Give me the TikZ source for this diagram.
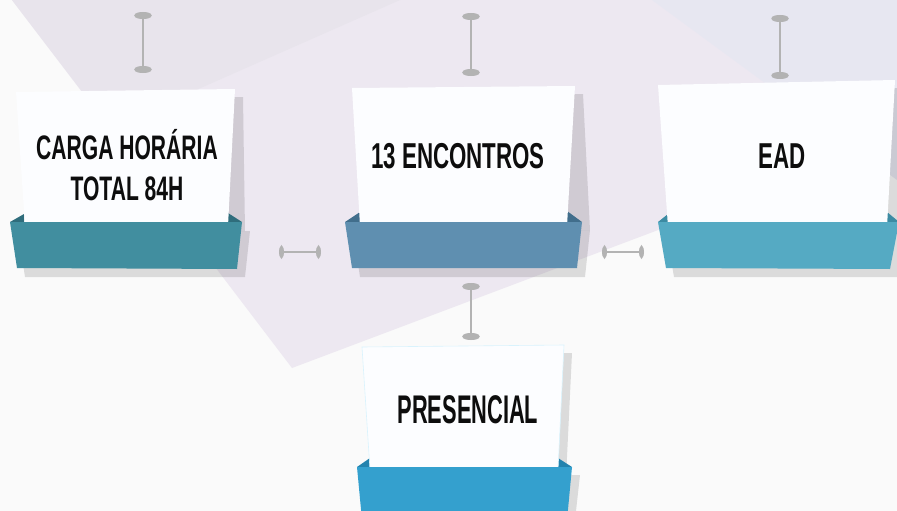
\documentclass[tikz,border=0pt]{standalone}
\usepackage{fontspec}
\newfontfamily\bebas[FakeStretch=0.62]{Liberation Sans}
\usetikzlibrary{arrows.meta}
\definecolor{bgbase}{HTML}{FAFAFA}
\definecolor{lavA}{HTML}{EDE8F1}
\definecolor{lavB}{HTML}{E8E4EC}
\definecolor{lavC}{HTML}{E7E7F1}
\definecolor{cardw}{HTML}{FCFDFF}
\definecolor{cgray}{HTML}{B3B3B3}
\definecolor{trayA}{HTML}{418E9F}
\definecolor{flapA}{HTML}{2F6D7C}
\definecolor{trayB}{HTML}{5F8FB0}
\definecolor{flapB}{HTML}{416E8C}
\definecolor{trayC}{HTML}{55AAC3}
\definecolor{flapC}{HTML}{3C8BA3}
\definecolor{trayD}{HTML}{34A0CE}
\definecolor{flapD}{HTML}{2383AE}
\definecolor{txt}{HTML}{0D0D0D}
\tikzset{
  shd/.style={fill=black, fill opacity=0.12},
  cardshape/.style={fill=cardw},
  cardtext/.style={text=txt, inner sep=0pt, align=center, font=\bebas\bfseries},
  vcon/.style={draw=cgray, fill=cgray, line width=2.6pt, {Ellipse[length=7pt,width=17pt]}-{Ellipse[length=7pt,width=17pt]}},
  hcon/.style={draw=cgray, fill=cgray, line width=2.6pt, {Ellipse[length=5pt,width=12pt]}-{Ellipse[length=5pt,width=12pt]}}
}
\begin{document}
\begin{tikzpicture}[x=1pt,y=-1pt]
\useasboundingbox (0,0) rectangle (897,511);
% background
\fill[bgbase] (0,0) rectangle (897,511);
\fill[lavA] (12,0) -- (292,368) -- (897,140) -- (897,0) -- cycle;
\fill[lavB] (12,0) -- (400,0) -- (110,128) -- cycle;
\fill[lavC] (652,0) -- (897,0) -- (897,180) -- cycle;

% ---- box 1 ----
\fill[shd] (24,100) -- (243,97) -- (245,231) -- (32,231) -- cycle;
\fill[shd] (18,231) -- (250,231) -- (245,277) -- (25,277) -- cycle;
\fill[flapA] (10,222) -- (24,214) -- (24,222) -- cycle;
\fill[flapA] (242,222) -- (228,213) -- (228,222) -- cycle;
\fill[cardshape] (16,92) -- (235,89) -- (228,226) -- (25,226) -- cycle;
\fill[trayA] (10,222) -- (242,222) -- (237,269) -- (17,268) -- cycle;
\node[cardtext, font=\bebas\bfseries\fontsize{34}{41}\selectfont] (t1) at (127,165) {CARGA HORÁRIA\\TOTAL 84H};

% ---- box 2 ----
\fill[shd] (360,96) -- (583,94) -- (590,230) -- (360,230) -- cycle;
\fill[shd] (353,230) -- (590,230) -- (585,277) -- (360,277) -- cycle;
\fill[flapB] (345,222) -- (360,212) -- (360,222) -- cycle;
\fill[flapB] (582,222) -- (567,211) -- (567,222) -- cycle;
\fill[cardshape] (352,88) -- (575,86) -- (567,226) -- (360,226) -- cycle;
\fill[trayB] (345,222) -- (582,222) -- (577,268) -- (352,268) -- cycle;
\node[cardtext, anchor=base, font=\bebas\bfseries\fontsize{36}{41}\selectfont] (t2) at (458,168) {13 ENCONTROS};

% ---- box 3 ----
\fill[shd] (666,93) -- (903,88) -- (903,232) -- (676,232) -- cycle;
\fill[shd] (666,230) -- (907,230) -- (898,277) -- (674,277) -- cycle;
\fill[flapC] (658,222) -- (668,214) -- (668,222) -- cycle;
\fill[flapC] (899,222) -- (887,212) -- (887,222) -- cycle;
\fill[cardshape] (658,85) -- (895,80) -- (887,227) -- (668,227) -- cycle;
\fill[trayC] (658,222) -- (899,222) -- (890,269) -- (666,268) -- cycle;
\node[cardtext, anchor=base, font=\bebas\bfseries\fontsize{36}{41}\selectfont] (t3) at (782,168) {EAD};

% ---- box 4 ----
\fill[shd] (370,355) -- (572,353) -- (566,478) -- (378,478) -- cycle;
\fill[shd] (365,475) -- (580,475) -- (575,520) -- (370,520) -- cycle;
\fill[flapD] (357,467) -- (370,458) -- (370,467) -- cycle;
\fill[flapD] (572,467) -- (558,458) -- (558,467) -- cycle;
\fill[cardshape, draw=cyan!15, line width=0.6pt] (362,347) -- (564,345) -- (558,470) -- (370,470) -- cycle;
\fill[trayD] (357,467) -- (572,467) -- (567,520) -- (362,520) -- cycle;
\node[cardtext, anchor=base, font=\bebas\bfseries\fontsize{40}{44}\selectfont] (t4) at (468,423) {\scalebox{0.88}[1]{PRESENCIAL}};

% ---- connectors ----
\coordinate (c1a) at (143,12);  \coordinate (c1b) at (143,73);
\coordinate (c2a) at (471,13);  \coordinate (c2b) at (471,76);
\coordinate (c3a) at (780,15);  \coordinate (c3b) at (780,79);
\coordinate (c4a) at (471,283); \coordinate (c4b) at (471,340);
\coordinate (h1a) at (279,252); \coordinate (h1b) at (321,252);
\coordinate (h2a) at (602,252); \coordinate (h2b) at (644,252);
\draw[vcon] (c1a) -- (c1b);
\draw[vcon] (c2a) -- (c2b);
\draw[vcon] (c3a) -- (c3b);
\draw[vcon] (c4a) -- (c4b);
\draw[hcon] (h1a) -- (h1b);
\draw[hcon] (h2a) -- (h2b);
\end{tikzpicture}
\end{document}
